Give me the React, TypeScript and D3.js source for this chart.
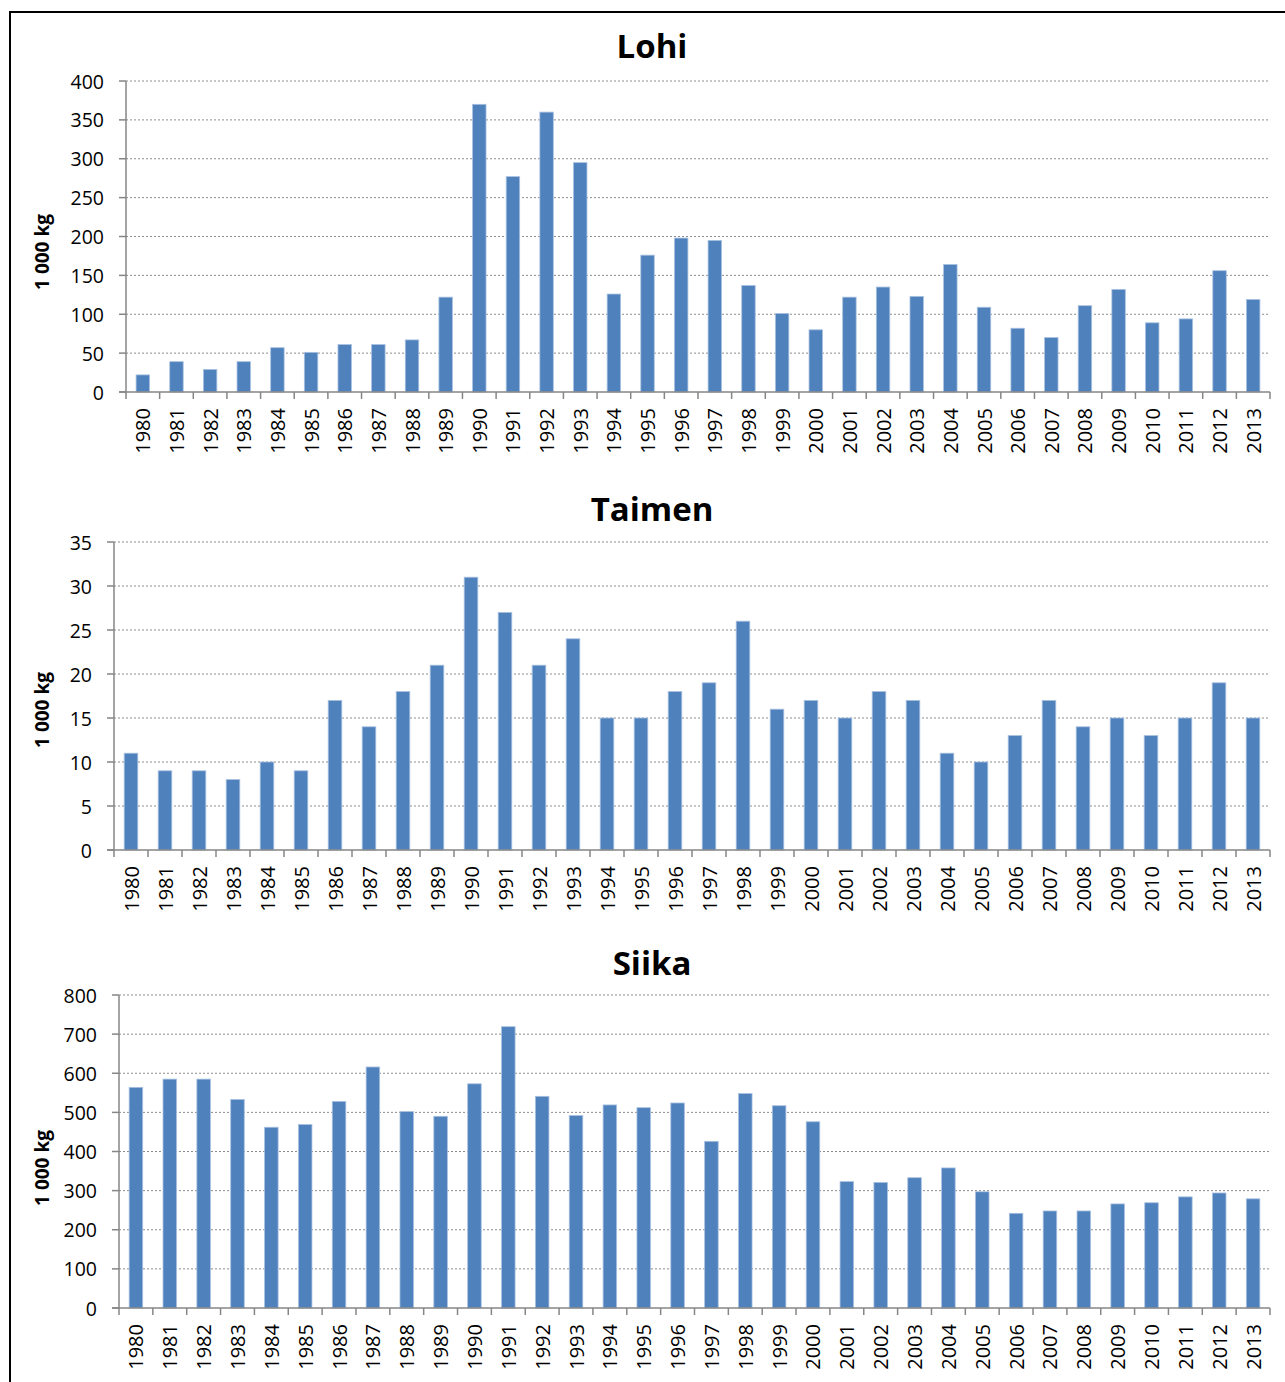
import React from "react";
import * as d3 from "d3";

const years = [
  "1980","1981","1982","1983","1984","1985","1986","1987","1988","1989",
  "1990","1991","1992","1993","1994","1995","1996","1997","1998","1999",
  "2000","2001","2002","2003","2004","2005","2006","2007","2008","2009",
  "2010","2011","2012","2013",
];

const lohiValues = [
  22, 39, 29, 39, 57, 51, 61, 61, 67, 122,
  370, 277, 360, 295, 126, 176, 198, 195, 137, 101,
  80, 122, 135, 123, 164, 109, 82, 70, 111, 132,
  89, 94, 156, 119,
];

const taimenValues = [
  11, 9, 9, 8, 10, 9, 17, 14, 18, 21,
  31, 27, 21, 24, 15, 15, 18, 19, 26, 16,
  17, 15, 18, 17, 11, 10, 13, 17, 14, 15,
  13, 15, 19, 15,
];

const siikaValues = [
  564, 585, 585, 533, 462, 469, 528, 616, 502, 490,
  573, 719, 541, 492, 519, 512, 524, 426, 548, 517,
  476, 323, 321, 333, 358, 297, 242, 248, 248, 266,
  269, 284, 294, 279,
];

const lohiTicks = [0, 50, 100, 150, 200, 250, 300, 350, 400];
const taimenTicks = [0, 5, 10, 15, 20, 25, 30, 35];
const siikaTicks = [0, 100, 200, 300, 400, 500, 600, 700, 800];

const titles = ["Lohi", "Taimen", "Siika"];
const yAxisTitle = "1 000 kg";

const FONT = "'Open Sans', 'DejaVu Sans', sans-serif";

type PanelProps = {
  title: string;
  values: number[];
  ticks: number[];
  left: number;
  right: number;
  top: number;
  bottom: number;
  titleY: number;
  yLabelY: number;
};

function Panel({ title, values, ticks, left, right, top, bottom, titleY, yLabelY }: PanelProps) {
  const x = d3
    .scaleBand<string>()
    .domain(years)
    .range([left, right])
    .paddingInner(0.6)
    .paddingOuter(0.3);
  const y = d3
    .scaleLinear()
    .domain([0, ticks[ticks.length - 1]])
    .range([bottom, top]);
  const step = x.step();
  const axisColor = "#868686";

  return (
    <g>
      <text
        x={652}
        y={titleY}
        textAnchor="middle"
        fontFamily={FONT}
        fontWeight="bold"
        fontSize={33}
        fill="#000"
      >
        {title}
      </text>
      <text
        transform={`translate(42,${yLabelY}) rotate(-90)`}
        textAnchor="middle"
        dominantBaseline="central"
        fontFamily={FONT}
        fontWeight="bold"
        fontSize={19}
        fill="#000"
      >
        {yAxisTitle}
      </text>
      {ticks.map((t) => (
        <g key={`g${t}`}>
          {t !== 0 && (
            <line
              x1={left}
              x2={right}
              y1={y(t)}
              y2={y(t)}
              stroke="#8c8c8c"
              strokeWidth={1}
              strokeDasharray="2,2"
            />
          )}
          <line x1={left - 7} x2={left} y1={y(t)} y2={y(t)} stroke={axisColor} strokeWidth={1.5} />
          <text
            x={left - 22}
            y={y(t)}
            textAnchor="end"
            dominantBaseline="central"
            fontFamily={FONT}
            fontSize={19.5}
            fill="#000"
          >
            {t}
          </text>
        </g>
      ))}
      {values.map((v, i) => (
        <rect
          key={`b${i}`}
          x={x(years[i])!}
          y={y(v)}
          width={x.bandwidth()}
          height={y(0) - y(v)}
          fill="#4F81BD"
          stroke="#a9c1e0"
          strokeWidth={0.8}
        />
      ))}
      <line x1={left} x2={left} y1={top} y2={bottom} stroke={axisColor} strokeWidth={1.5} />
      <line x1={left - 7} x2={right} y1={bottom} y2={bottom} stroke={axisColor} strokeWidth={1.5} />
      {d3.range(years.length + 1).map((i) => (
        <line
          key={`t${i}`}
          x1={left + i * step}
          x2={left + i * step}
          y1={bottom}
          y2={bottom + 7}
          stroke={axisColor}
          strokeWidth={1.5}
        />
      ))}
      {years.map((yr) => (
        <text
          key={`l${yr}`}
          transform={`translate(${x(yr)! + x.bandwidth() / 2},${bottom + 16}) rotate(-90)`}
          textAnchor="end"
          dominantBaseline="central"
          fontFamily={FONT}
          fontSize={20}
          fill="#000"
        >
          {yr}
        </text>
      ))}
    </g>
  );
}

export default function App() {
  return (
    <svg
      width={1285}
      height={1382}
      style={{ position: "absolute", left: 0, top: 0, background: "#fff" }}
    >
      <rect x={0} y={0} width={1285} height={1382} fill="#fff" />
      <rect x={10} y={12} width={1290} height={1400} fill="none" stroke="#000" strokeWidth={2} />
      <Panel
        title={titles[0]}
        values={lohiValues}
        ticks={lohiTicks}
        left={126}
        right={1270}
        top={81}
        bottom={392}
        titleY={58}
        yLabelY={252}
      />
      <Panel
        title={titles[1]}
        values={taimenValues}
        ticks={taimenTicks}
        left={114}
        right={1270}
        top={542}
        bottom={850}
        titleY={521}
        yLabelY={710}
      />
      <Panel
        title={titles[2]}
        values={siikaValues}
        ticks={siikaTicks}
        left={119}
        right={1270}
        top={995}
        bottom={1308}
        titleY={975}
        yLabelY={1168}
      />
    </svg>
  );
}
